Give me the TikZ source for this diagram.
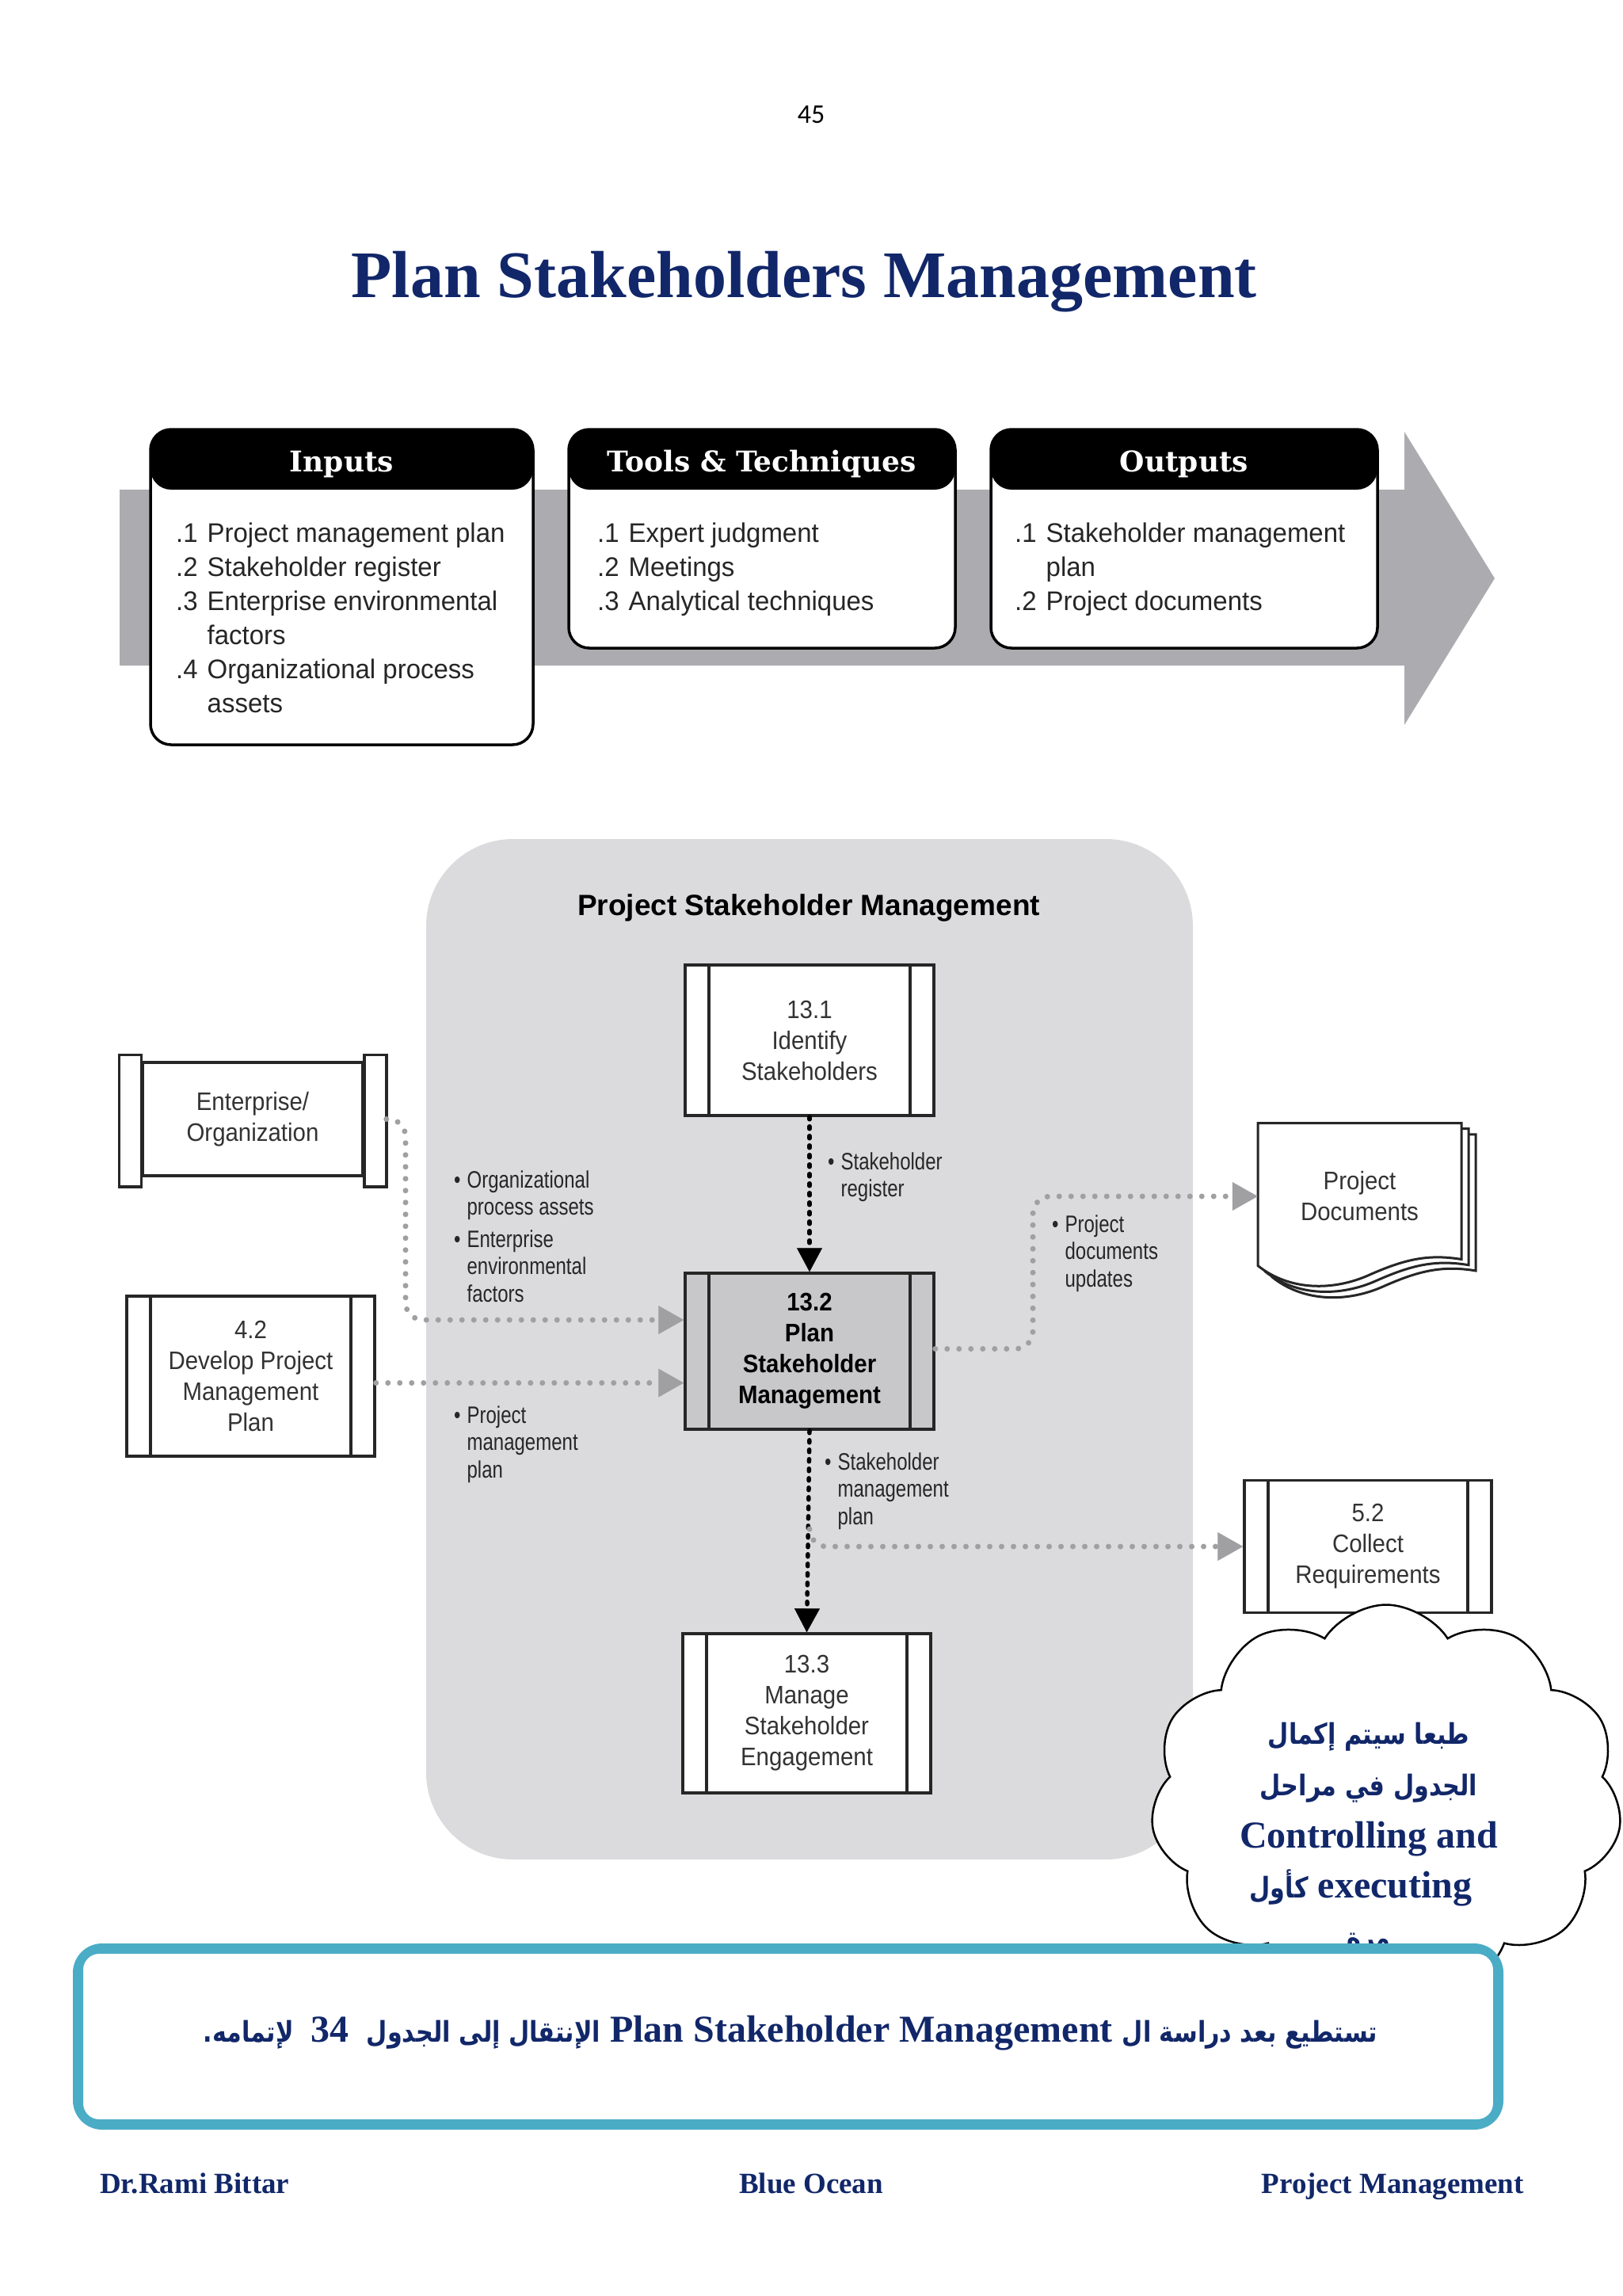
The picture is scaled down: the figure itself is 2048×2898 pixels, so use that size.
\documentclass[tikz,border=0pt]{standalone}
\usepackage{fontspec}
\usetikzlibrary{arrows.meta,shapes.symbols}
\setmainfont{Liberation Serif}
\newfontfamily\boxfont[FakeStretch=0.92]{Liberation Sans}
\newfontfamily\labfont[FakeStretch=0.8]{Liberation Sans}
\newfontfamily\itemfont[FakeStretch=0.97]{Liberation Sans}
\newfontfamily\sansbold{Liberation Sans}
\newfontfamily\hdrfont{DejaVu Serif}
\newfontfamily\arabicfont[Script=Arabic,FakeStretch=0.84]{DejaVu Sans}
\newfontfamily\pnfont{Carlito}
\TeXXeTstate=1
\definecolor{navy}{RGB}{17,39,105}
\definecolor{teal5}{RGB}{75,172,198}
\definecolor{bandgray}{RGB}{172,172,176}
\definecolor{regiongray}{RGB}{219,219,221}
\definecolor{dotgray}{RGB}{160,160,163}
\definecolor{boxgray}{RGB}{200,200,202}
\newcommand\artxt[1]{{\arabicfont\bfseries\fontsize{36}{44}\selectfont #1}}
\newcommand\artxtc[1]{{\arabicfont\bfseries\fontsize{36}{44}\selectfont #1}}
\begin{document}
\begin{tikzpicture}[x=1pt,y=-1pt,
 hdrbox/.style={draw=black, line width=3.5pt, fill=white, rounded corners=26pt, inner sep=0pt,
   path picture={\fill[black] (path picture bounding box.north west) rectangle ([yshift=-76pt]path picture bounding box.north east);}},
 hdrtext/.style={text=white, font=\hdrfont\bfseries\fontsize{36}{40}\selectfont, anchor=base, inner sep=0pt},
 itemtext/.style={font=\itemfont\fontsize{34}{43}\selectfont, text=black!85, anchor=base west, inner sep=0pt},
 labtext/.style={font=\labfont\fontsize{30}{34.5}\selectfont, text=black!85, anchor=base west, inner sep=0pt},
 proc/.style={draw=black!85, line width=3.5pt, fill=white, inner sep=0pt, align=center, text=black!80,
   font=\boxfont\fontsize{32}{39}\selectfont,
   path picture={\draw[line width=3.5pt, black!85]
     ([xshift=30pt]path picture bounding box.north west) -- ([xshift=30pt]path picture bounding box.south west)
     ([xshift=-30pt]path picture bounding box.north east) -- ([xshift=-30pt]path picture bounding box.south east);}},
 graydot/.style={draw=dotgray, line width=7pt, line cap=round, dash pattern=on 0pt off 15pt, rounded corners=22pt,
   -{Triangle[length=32pt,width=36pt,fill=dotgray,line width=0.5pt]}},
 blackdot/.style={draw=black, line width=5.5pt, line cap=round, dash pattern=on 3pt off 9pt,
   -{Triangle[length=30pt,width=32pt,fill=black,line width=0.5pt]}},
 navytext/.style={text=navy, font=\bfseries\fontsize{37}{40}\selectfont, inner sep=0pt},
 cloudline/.style={text=navy, font=\bfseries\fontsize{48}{52}\selectfont, inner sep=0pt, anchor=base}
]
\useasboundingbox[fill=white] (0,0) rectangle (2048,2898);

% page number and title
\node[font=\pnfont\fontsize{34}{36}\selectfont, anchor=base] (pg) at (1024,156) {45};
\node[text=navy, font=\bfseries\fontsize{84}{90}\selectfont, anchor=base, inner sep=0pt] (title) at (1015,375) {Plan Stakeholders Management};

% top process band
\fill[bandgray] (151,618) -- (1773,618) -- (1773,545) -- (1887,730) -- (1773,915) -- (1773,840) -- (151,840) -- cycle;

\node[hdrbox, minimum width=483pt, minimum height=398pt] (inbox) at (431.5,741) {};
\node[hdrbox, minimum width=488pt, minimum height=276pt] (tools) at (962,680) {};
\node[hdrbox, minimum width=488pt, minimum height=276pt] (outbox) at (1495,680) {};

\node[hdrtext] (inhdr) at ([yshift=-55pt]inbox.north) {Inputs};
\node[hdrtext] (toolshdr) at ([yshift=-55pt]tools.north) {Tools \& Techniques};
\node[hdrtext] (outhdr) at ([yshift=-55pt]outbox.north) {Outputs};

\node[itemtext] (initems) at (222,684) {\begin{tabular}[t]{@{}l@{\hspace{12pt}}l@{}}
.1 & Project management plan\\
.2 & Stakeholder register\\
.3 & Enterprise environmental\\
   & factors\\
.4 & Organizational process\\
   & assets\end{tabular}};
\node[itemtext] (toolitems) at (754,684) {\begin{tabular}[t]{@{}l@{\hspace{12pt}}l@{}}
.1 & Expert judgment\\
.2 & Meetings\\
.3 & Analytical techniques\end{tabular}};
\node[itemtext] (outitems) at (1281,684) {\begin{tabular}[t]{@{}l@{\hspace{12pt}}l@{}}
.1 & Stakeholder management\\
   & plan\\
.2 & Project documents\end{tabular}};

% knowledge area region
\fill[regiongray, rounded corners=110pt] (538,1059) rectangle (1506,2347);
\node[font=\sansbold\bfseries\fontsize{37}{40}\selectfont, inner sep=0pt] (regtitle) at (1021,1146) {Project Stakeholder Management};

% process boxes
\node[proc, minimum width=314pt, minimum height=190pt] (p131) at (1022,1313) {13.1\\Identify\\Stakeholders};
\node[proc, fill=boxgray, font=\boxfont\bfseries\fontsize{32}{39}\selectfont, text=black, minimum width=314pt, minimum height=197pt] (p132) at (1022,1705.5) {13.2\\Plan\\Stakeholder\\Management};
\node[proc, minimum width=313pt, minimum height=201pt] (p133) at (1018.5,2162.5) {13.3\\Manage\\Stakeholder\\Engagement};
\node[proc, minimum width=313pt, minimum height=202pt] (p42) at (316.5,1737) {4.2\\Develop Project\\Management\\Plan};
\node[proc, minimum width=312pt, minimum height=167pt] (p52) at (1727,1952) {5.2\\Collect\\Requirements};

% enterprise / organization
\node[draw=black!85, line width=3.5pt, fill=white, inner sep=0pt, align=center, text=black!80,
   font=\boxfont\fontsize{32}{39}\selectfont, minimum width=278pt, minimum height=143pt] (ent) at (319,1412.5) {Enterprise/\\Organization};
\draw[draw=black!85, line width=3.5pt, fill=white] ([xshift=-28pt,yshift=8pt]ent.north west) rectangle ([yshift=-12pt]ent.south west);
\draw[draw=black!85, line width=3.5pt, fill=white] ([yshift=8pt]ent.north east) rectangle ([xshift=28pt,yshift=-12pt]ent.south east);

% project documents
\begin{scope}[shift={(1588,1417.5)}]
\foreach \d in {18,9,0}{
  \draw[black!85, line width=3pt, fill=white, shift={(\d,0.8*\d)}]
    (0,0) -- (257,0) -- (257,172) .. controls (215,165) and (185,172) .. (140,192)
    .. controls (95,212) and (40,212) .. (0,180) -- cycle;
}
\end{scope}
\node[inner sep=0pt, minimum width=257pt, minimum height=185pt, align=center, text=black!80,
   font=\boxfont\fontsize{32}{39}\selectfont] (docs) at (1716.5,1510) {Project\\Documents};

% connectors
\draw[blackdot] (p131.south) -- (p132.north);
\draw[blackdot] (p132.south) -- (p133.north);
\coordinate (br) at (1022,1930);
\draw[graydot] (br) |- (p52.west);
\coordinate (e1) at (512,1666);
\draw[graydot] ([xshift=28pt]ent.east) -| (e1) -- ([yshift=39.5pt]p132.west);
\coordinate (q1) at ([yshift=-40pt]p132.west);
\draw[graydot] (p42.east |- q1) -- (q1);
\coordinate (c1) at (1304,1510);
\draw[graydot] ([yshift=3pt]p132.east) -| (c1) -- (docs.west);

% labels
\node[labtext] (labA) at (573,1499) {\begin{tabular}[t]{@{}l@{\hspace{8pt}}l@{}}
• & Organizational\\ & process assets\\[6pt]
• & Enterprise\\ & environmental\\ & factors\end{tabular}};
\node[labtext] (labB) at (573,1796) {\begin{tabular}[t]{@{}l@{\hspace{8pt}}l@{}}
• & Project\\ & management\\ & plan\end{tabular}};
\node[labtext] (labC) at (1045,1476) {\begin{tabular}[t]{@{}l@{\hspace{8pt}}l@{}}
• & Stakeholder\\ & register\end{tabular}};
\node[labtext] (labD) at (1041,1855) {\begin{tabular}[t]{@{}l@{\hspace{8pt}}l@{}}
• & Stakeholder\\ & management\\ & plan\end{tabular}};
\node[labtext] (labE) at (1328,1555) {\begin{tabular}[t]{@{}l@{\hspace{8pt}}l@{}}
• & Project\\ & documents\\ & updates\end{tabular}};

% cloud
\node[cloud, cloud puffs=11, cloud puff arc=115, aspect=1.2, draw=black, line width=2.5pt, fill=white,
  minimum width=595pt, minimum height=495pt, inner sep=0pt] (cloudn) at (1750,2273) {};
\node[cloudline] (cl1) at (1728,2201) {\beginR\artxtc{طبعا سيتم إكمال}\endR};
\node[cloudline] (cl2) at (1728,2266) {\beginR\artxtc{الجدول في مراحل}\endR};
\node[cloudline] (cl3) at (1728,2332) {Controlling and};
\node[cloudline] (cl4) at (1718,2395) {\beginR\beginL executing\endL{} \artxtc{كأول}\endR};
\node[cloudline] (cl5) at (1728,2458) {\beginR\artxtc{مرة}\endR};

% note box
\node[draw=teal5, line width=10pt, rounded corners=32pt, fill=white, minimum width=1796pt, minimum height=225pt, inner sep=0pt] (note) at (995,2570.5) {};
\draw[teal5, line width=4pt, rounded corners=22pt] ([shift={(11pt,-11pt)}]note.north west) rectangle ([shift={(-11pt,11pt)}]note.south east);
\node[navytext, anchor=base, font=\bfseries\fontsize{48}{52}\selectfont] (notetext) at (998,2577)
 {\beginR\artxt{تستطيع بعد دراسة ال} \beginL Plan Stakeholder Management\endL{} \artxt{الإنتقال إلى الجدول}\hspace{22pt}\beginL 34\endL\hspace{22pt}\artxt{لإتمامه.}\endR};

% footer
\node[navytext, anchor=base west] (f1) at (126,2768) {Dr.Rami Bittar};
\node[navytext, anchor=base] (f2) at (1024,2768) {Blue Ocean};
\node[navytext, anchor=base east] (f3) at (1924,2768) {Project Management};
\end{tikzpicture}
\end{document}
